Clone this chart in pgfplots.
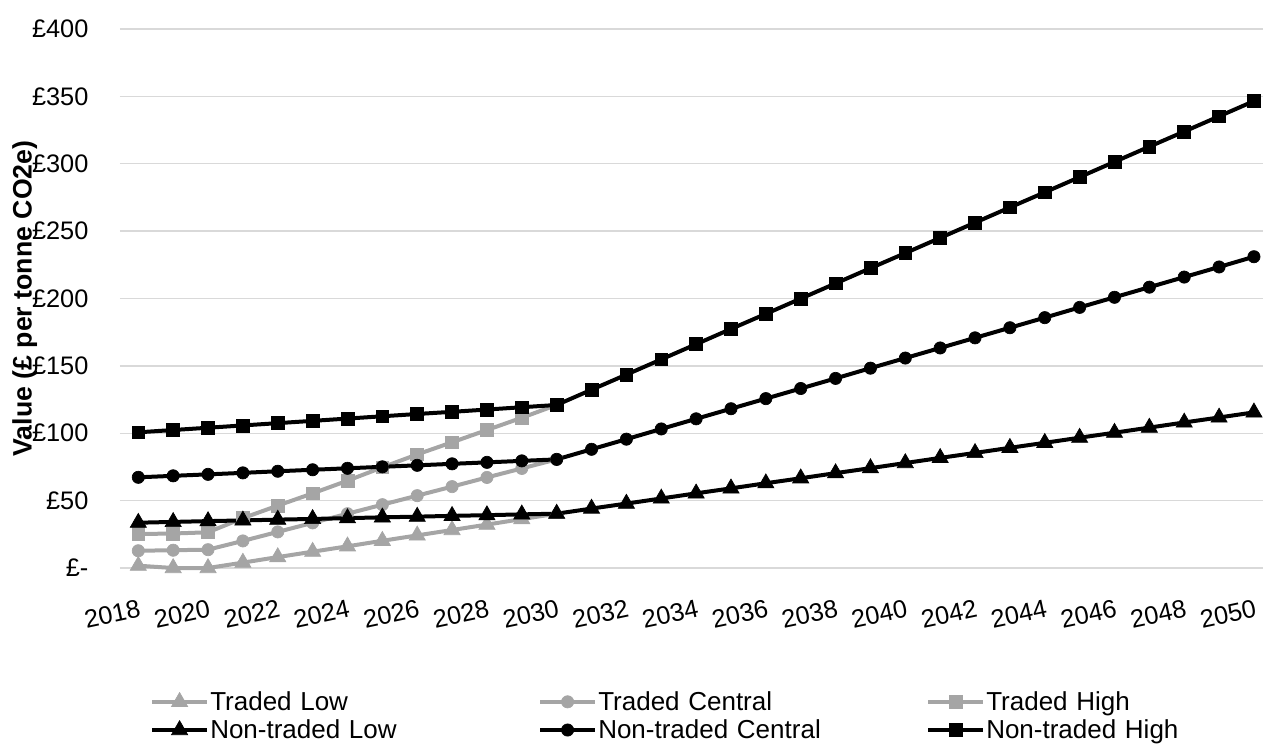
\documentclass[border=0pt]{standalone}
\usepackage{fontspec}
\setmainfont{Liberation Sans}
\usepackage{pgfplots}
\pgfplotsset{compat=1.18}
\usepackage{pgfplotstable}
\definecolor{tgrey}{HTML}{A5A5A5}
\definecolor{gridgrey}{HTML}{D9D9D9}

\pgfplotstableread{
year val
2018 1.7
2019 0.0
2020 0.0
2021 4.0
2022 8.1
2023 12.1
2024 16.1
2025 20.2
2026 24.2
2027 28.2
2028 32.2
2029 36.3
2030 40.3
}\tradedlow

\pgfplotstableread{
year val
2018 12.8
2019 13.2
2020 13.6
2021 20.1
2022 26.8
2023 33.5
2024 40.3
2025 47.0
2026 53.7
2027 60.4
2028 67.2
2029 73.9
2030 80.6
}\tradedcentral

\pgfplotstableread{
year val
2018 25.2
2019 25.6
2020 26.5
2021 37.0
2022 46.3
2023 55.4
2024 64.8
2025 74.7
2026 84.3
2027 93.3
2028 102.4
2029 111.5
2030 121.0
}\tradedhigh

\pgfplotstableread{
year val
2018 33.6
2019 34.2
2020 34.8
2021 35.3
2022 35.9
2023 36.4
2024 37.0
2025 37.6
2026 38.1
2027 38.7
2028 39.2
2029 39.8
2030 40.3
2031 44.1
2032 47.8
2033 51.6
2034 55.4
2035 59.1
2036 62.9
2037 66.6
2038 70.4
2039 74.1
2040 77.9
2041 81.7
2042 85.4
2043 89.2
2044 92.9
2045 96.7
2046 100.4
2047 104.2
2048 108.0
2049 111.7
2050 115.5
}\ntlow

\pgfplotstableread{
year val
2018 67.3
2019 68.4
2020 69.5
2021 70.6
2022 71.8
2023 72.9
2024 74.0
2025 75.1
2026 76.2
2027 77.3
2028 78.4
2029 79.5
2030 80.6
2031 88.1
2032 95.6
2033 103.2
2034 110.7
2035 118.2
2036 125.7
2037 133.2
2038 140.7
2039 148.3
2040 155.8
2041 163.3
2042 170.8
2043 178.3
2044 185.8
2045 193.4
2046 200.9
2047 208.4
2048 215.9
2049 223.4
2050 231.0
}\ntcentral

\pgfplotstableread{
year val
2018 100.7
2019 102.4
2020 104.1
2021 105.8
2022 107.5
2023 109.2
2024 110.9
2025 112.6
2026 114.3
2027 115.9
2028 117.6
2029 119.3
2030 121.0
2031 132.3
2032 143.5
2033 154.8
2034 166.1
2035 177.4
2036 188.6
2037 199.9
2038 211.2
2039 222.5
2040 233.7
2041 245.0
2042 256.3
2043 267.6
2044 278.8
2045 290.1
2046 301.4
2047 312.7
2048 323.9
2049 335.2
2050 346.5
}\nthigh

\begin{document}
\begin{tikzpicture}
\begin{axis}[
  scale only axis,
  width=857.25pt, height=404.25pt,
  xmin=2017.475, xmax=2050.26, ymin=0, ymax=400,
  clip=false,
  axis line style={draw=none},
  major tick length=0pt,
  ymajorgrids,
  grid style={gridgrey, line width=1.1pt},
  ytick={0,50,...,400},
  yticklabels={£-, £50, £100, £150, £200, £250, £300, £350, £400},
  xtick={2018,2020,...,2050},
  xticklabels={2018,2020,2022,2024,2026,2028,2030,2032,2034,2036,2038,2040,2042,2044,2046,2048,2050},
  tick label style={font=\fontsize{19}{23}\selectfont, text=black},
  yticklabel style={anchor=east, inner sep=0pt, xshift=-23.5pt},
  xticklabel style={yshift=-23.5pt, rotate=12, anchor=north east, inner sep=0pt},
  ylabel={Value (£ per tonne CO2e)},
  ylabel style={at={(axis description cs:-0.0945,0.5)}, anchor=north, inner sep=0pt,
    font=\fontsize{20}{24}\selectfont\bfseries},
  legend columns=3,
  legend cell align=left,
  legend style={at={(axis description cs:0.02625,-0.226)}, anchor=north west,
    draw=none, fill=none, inner sep=0pt, row sep=3.5pt,
    font=\fontsize{19.5}{23}\selectfont,
    nodes={inner sep=1pt},
    /tikz/every even column/.append style={text width=245pt}},
  legend image code/.code={\draw[mark repeat=2,mark phase=2] plot coordinates {(0pt,0pt) (20.5pt,0pt) (41pt,0pt)};},
]
\addplot[tgrey, line width=3pt, mark=triangle*, mark size=7pt, mark options={line width=0.5pt}] table[x=year,y=val] {\tradedlow};
\addlegendentry{Traded Low}
\addplot[tgrey, line width=3pt, mark=*, mark size=4.6pt, mark options={line width=0.5pt}] table[x=year,y=val] {\tradedcentral};
\addlegendentry{Traded Central}
\addplot[tgrey, line width=3pt, mark=square*, mark size=4.8pt, mark options={line width=0.5pt}] table[x=year,y=val] {\tradedhigh};
\addlegendentry{Traded High}
\addplot[black, line width=3pt, mark=triangle*, mark size=7pt, mark options={line width=0.5pt}] table[x=year,y=val] {\ntlow};
\addlegendentry{Non-traded Low}
\addplot[black, line width=3pt, mark=*, mark size=4.6pt, mark options={line width=0.5pt}] table[x=year,y=val] {\ntcentral};
\addlegendentry{Non-traded Central}
\addplot[black, line width=3pt, mark=square*, mark size=4.8pt, mark options={line width=0.5pt}] table[x=year,y=val] {\nthigh};
\addlegendentry{Non-traded High}
\coordinate (SW) at (rel axis cs:0,0);
\end{axis}
\pgfresetboundingbox
\useasboundingbox (SW) ++(-90pt,-131.25pt) rectangle ++(947.25pt,557.25pt);
\end{tikzpicture}
\end{document}
